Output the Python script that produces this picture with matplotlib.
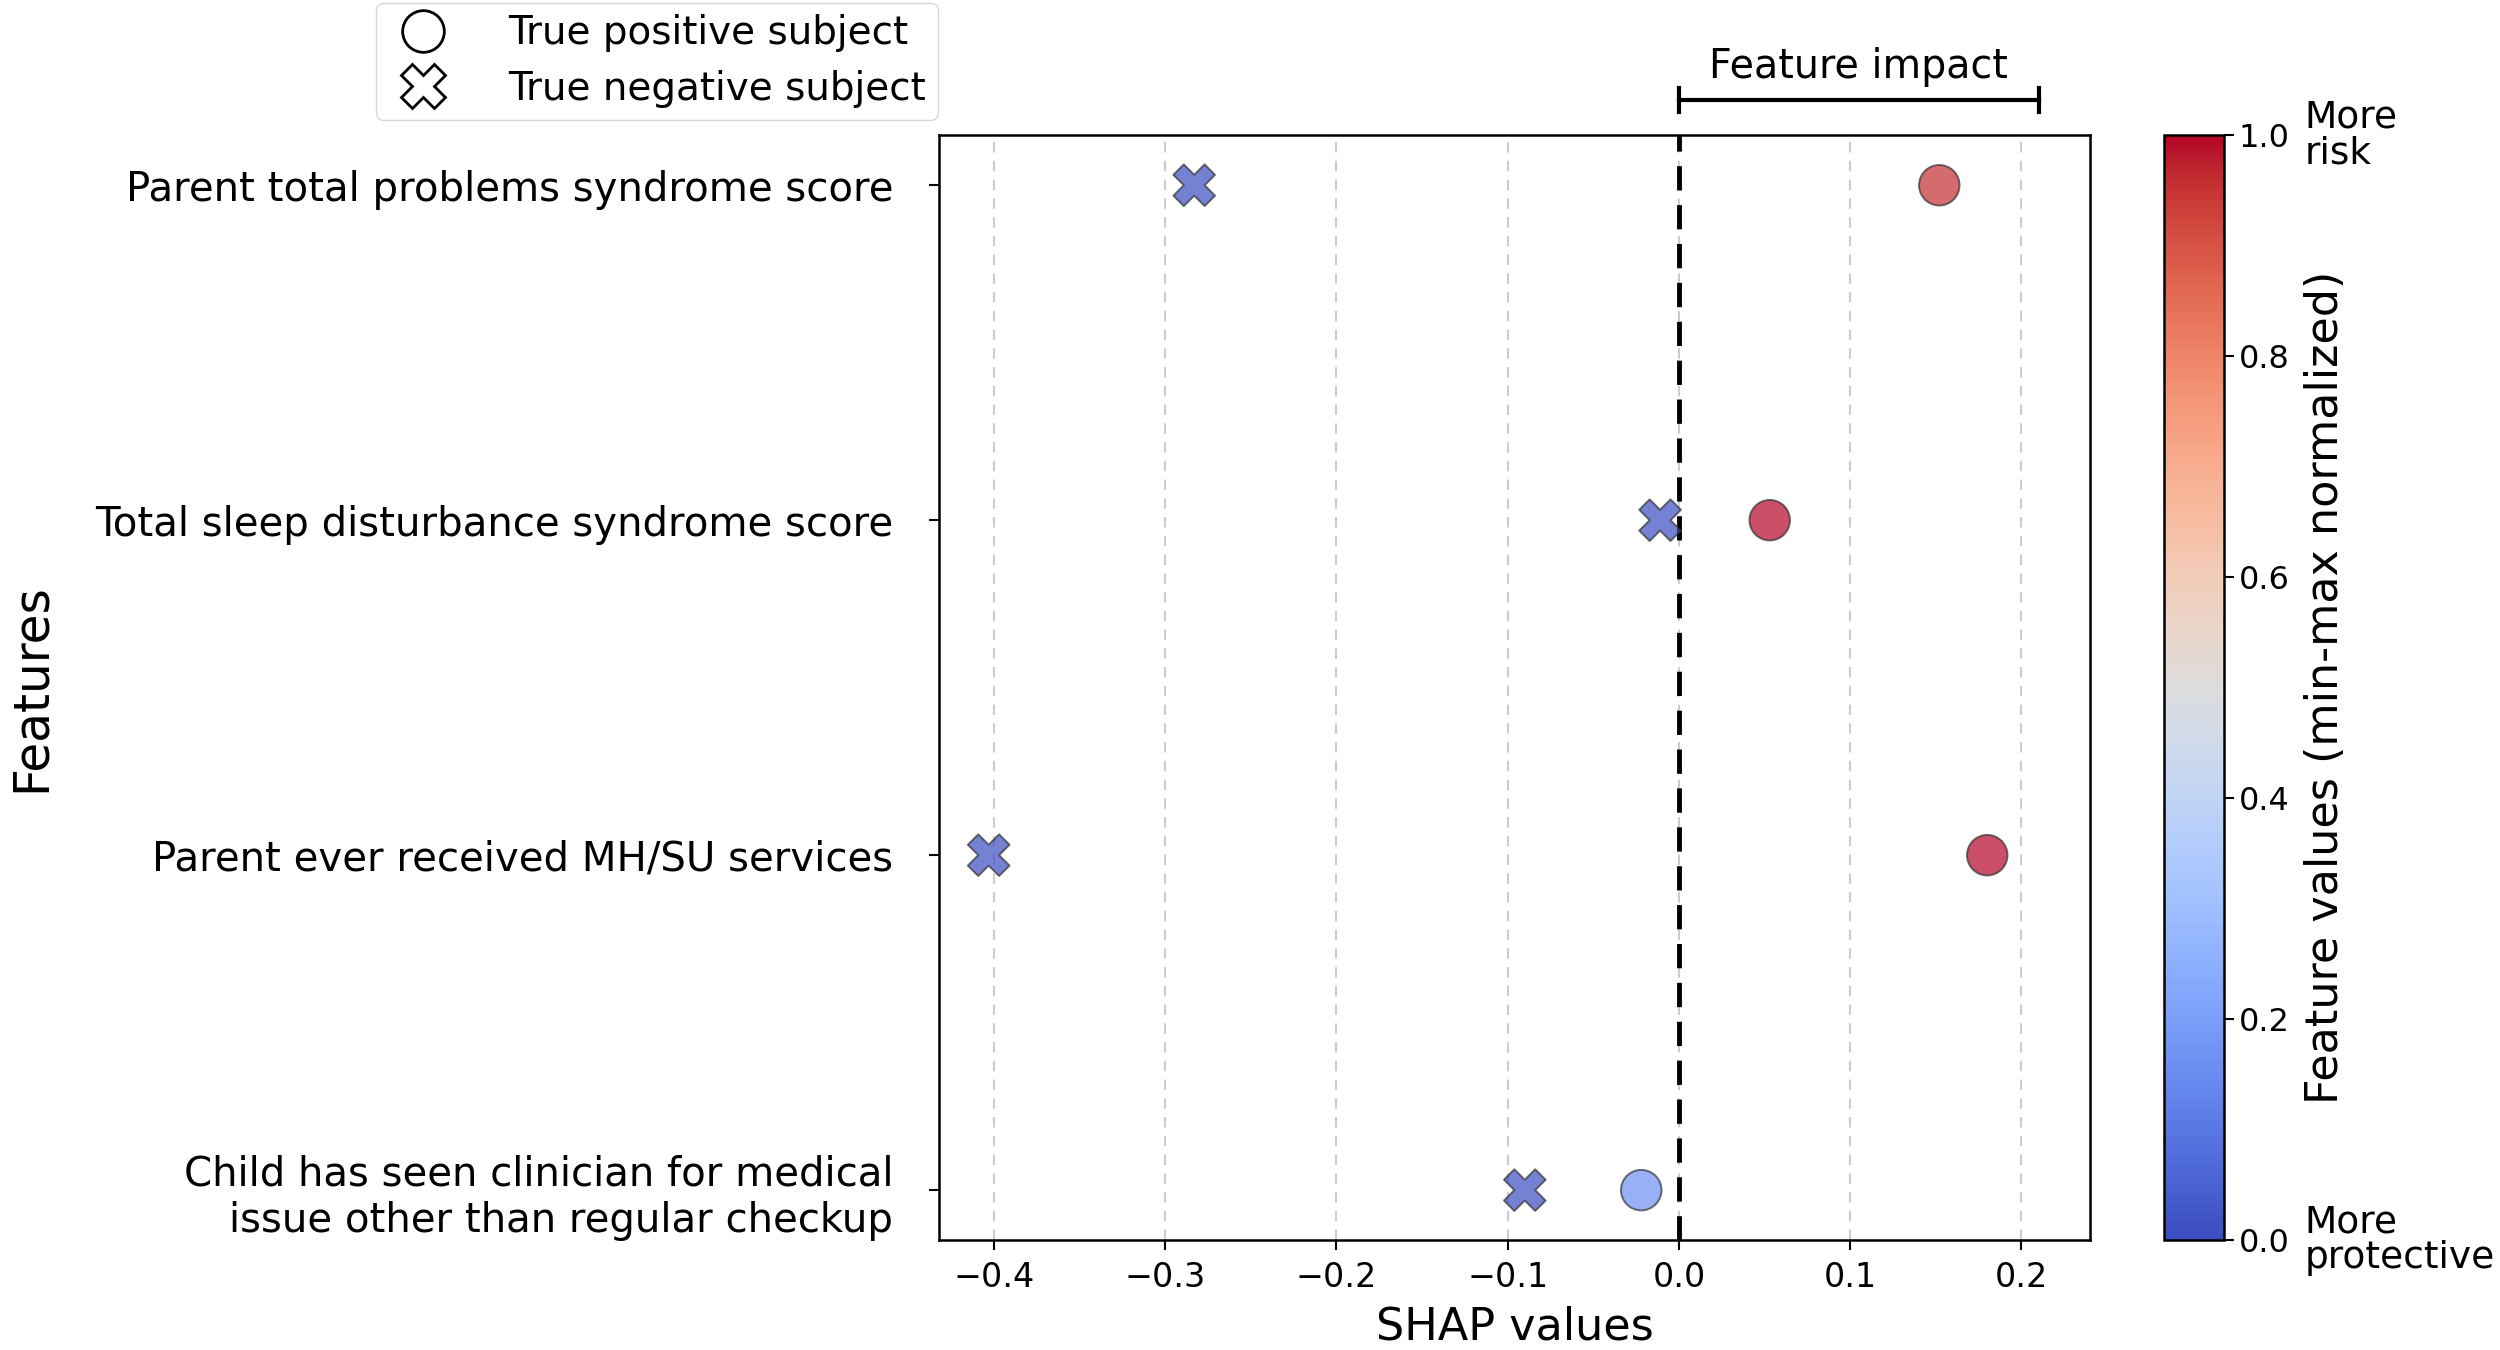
import matplotlib.pyplot as plt
import matplotlib.transforms as mtransforms
from matplotlib.lines import Line2D
from matplotlib.cm import ScalarMappable
from matplotlib.colors import Normalize

plt.rcParams['font.family'] = ['DejaVu Sans']

# Features, top to bottom
features = [
    "Parent total problems syndrome score",
    "Total sleep disturbance syndrome score",
    "Parent ever received MH/SU services",
    "Child has seen clinician for medical\nissue other than regular checkup",
]

# SHAP values and normalized feature values for each subject
tp_shap = [0.152, 0.053, 0.180, -0.022]
tp_value = [0.96, 1.0, 1.0, 0.16]
tn_shap = [-0.283, -0.011, -0.403, -0.090]
tn_value = [0.0, 0.0, 0.0, 0.0]

xticks = [-0.4, -0.3, -0.2, -0.1, 0.0, 0.1, 0.2]
cbar_ticks = [0.0, 0.2, 0.4, 0.6, 0.8, 1.0]
impact_span = (0.0, 0.21)

cmap = plt.get_cmap('coolwarm')
norm = Normalize(vmin=0, vmax=1)

fig = plt.figure(figsize=(25, 13.5), dpi=100)
ax = fig.add_axes([0.3756, 0.0812, 0.4604, 0.8188])
cax = fig.add_axes([0.8654, 0.0812, 0.0243, 0.8188])

ypos = list(range(len(features)))

ax.scatter(tp_shap, ypos, c=tp_value, cmap=cmap, norm=norm, marker='o', s=850,
           alpha=0.7, edgecolors='#333333', linewidths=1.4, zorder=3)
ax.scatter(tn_shap, ypos, c=tn_value, cmap=cmap, norm=norm, marker='X', s=900,
           alpha=0.7, edgecolors='#333333', linewidths=1.4, zorder=3)

ax.axvline(0, color='black', linestyle='--', linewidth=3.5, dashes=(5, 3), zorder=2)

ax.set_xlim(-0.432, 0.24)
ax.set_ylim(len(features) - 1 + 0.15, -0.15)
ax.set_xticks(xticks)
ax.set_xticklabels([f"{t:.1f}".replace('-', '\u2212') for t in xticks])
ax.set_yticks(ypos)
ax.set_yticklabels(features)
ax.grid(axis='x', color='#cccccc', linestyle=(0, (5, 4)), linewidth=1.5)
ax.set_axisbelow(True)

ax.tick_params(axis='x', labelsize=24, length=7, width=1.5, pad=8)
ax.tick_params(axis='y', labelsize=29, length=7, width=1.5, pad=26)
for sp in ax.spines.values():
    sp.set_linewidth(1.8)

ax.set_xlabel('SHAP values', fontsize=32, labelpad=8)
ax.set_ylabel('Features', fontsize=35)
ax.yaxis.set_label_coords(-0.768, 0.5)

# Feature impact bracket above the axes
trans = mtransforms.blended_transform_factory(ax.transData, ax.transAxes)
by = 1.0316
ax.plot(impact_span, [by, by], color='black', lw=3, transform=trans, clip_on=False)
for xe in impact_span:
    ax.plot([xe, xe], [by - 0.011, by + 0.011], color='black', lw=3,
            transform=trans, clip_on=False)
ax.text(sum(impact_span) / 2, by + 0.012, 'Feature impact', transform=trans,
        ha='center', va='bottom', fontsize=28.5)

# Colorbar
sm = ScalarMappable(norm=norm, cmap=cmap)
cb = fig.colorbar(sm, cax=cax, ticks=cbar_ticks)
cb.ax.tick_params(labelsize=23, length=7, width=1.5)
cb.outline.set_linewidth(1.8)
cb.set_label('Feature values (min-max normalized)', fontsize=32, labelpad=10)
cax.text(2.32, 1.0, 'More\nrisk', transform=cax.transAxes, ha='left',
         va='center', fontsize=27, linespacing=1.0)
cax.text(2.32, 0.0, 'More\nprotective', transform=cax.transAxes, ha='left',
         va='center', fontsize=27, linespacing=1.0)

# Legend for subject types
handles = [
    Line2D([], [], marker='o', linestyle='none', markersize=30,
           markerfacecolor='white', markeredgecolor='black', markeredgewidth=2,
           label='True positive subject'),
    Line2D([], [], marker='X', linestyle='none', markersize=32,
           markerfacecolor='white', markeredgecolor='black', markeredgewidth=2,
           label='True negative subject'),
]
fig.legend(handles=handles, loc='upper left', bbox_to_anchor=(0.1505, 0.998),
           borderaxespad=0, fontsize=28, frameon=True, edgecolor='#cccccc',
           handletextpad=1.3, handlelength=1.8, borderpad=0.3, labelspacing=0.45)

fig.savefig('out.png', dpi=100)
